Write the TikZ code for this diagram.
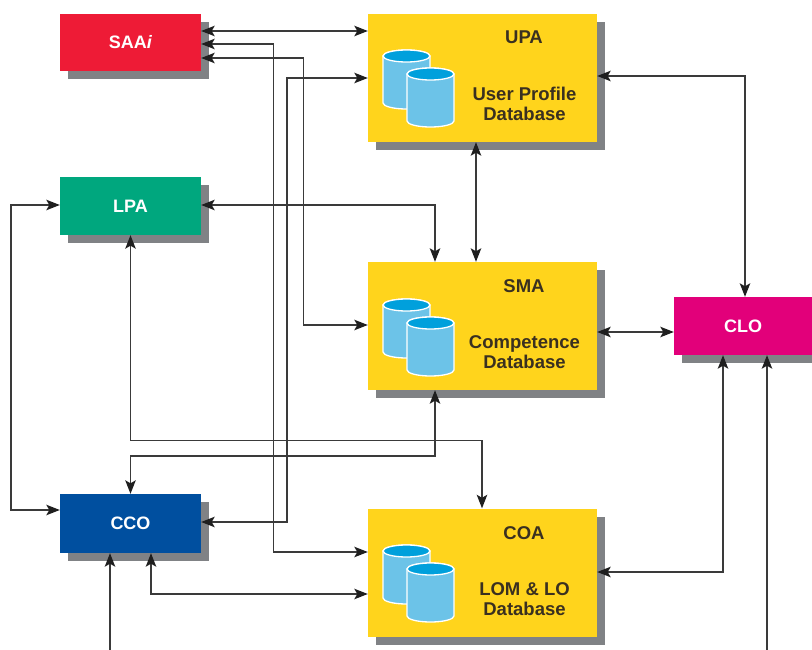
\documentclass[tikz,border=0pt]{standalone}
\usepackage{fontspec}
\setmainfont{Liberation Sans}
\usetikzlibrary{arrows.meta,shadows,calc}
\definecolor{shade}{HTML}{808285}
\definecolor{cred}{HTML}{EE1B36}
\definecolor{cgreen}{HTML}{00A77E}
\definecolor{cblue}{HTML}{004F9F}
\definecolor{cmag}{HTML}{E2007A}
\definecolor{cyel}{HTML}{FFD41C}
\definecolor{cylbody}{HTML}{6CC3E8}
\definecolor{cyltop}{HTML}{00A0DC}
\definecolor{wire}{HTML}{3A3A3A}
\definecolor{ink}{HTML}{3A3020}
\tikzset{
  tiphead/.tip={Stealth[length=13.5pt,width=10.5pt,inset=3pt,color=black!88]},
  box/.style={draw=none,inner sep=0pt,minimum width=141pt,minimum height=58pt,
    general shadow={fill=shade,shadow xshift=8pt,shadow yshift=-8pt}},
  smallbox/.style={box,text=white,font=\bfseries\fontsize{18}{20}\selectfont},
  bigbox/.style={box,fill=cyel,minimum width=229pt,minimum height=128pt},
  boxlabel/.style={inner sep=0pt,text=ink,align=center,font=\bfseries\fontsize{18.5}{19.5}\selectfont},
  link/.style={draw=wire,line width=1.4pt,{tiphead}-{tiphead}},
  inlink/.style={draw=wire,line width=1.4pt,-{tiphead}},
  pics/cylpair/.style={code={
    \foreach \cx/\cy in {0/0,24/18}{
      \path[fill=cylbody,draw=white,line width=1.3pt]
        (\cx-23.5,\cy) -- (\cx-23.5,\cy+47) arc[x radius=23.5,y radius=6,start angle=180,end angle=0] -- (\cx+23.5,\cy)
        arc[x radius=23.5,y radius=6,start angle=0,end angle=-180] -- cycle;
      \path[fill=cyltop,draw=white,line width=1.3pt] (\cx,\cy) ellipse[x radius=23.5,y radius=6];
    }
  }},
}
\begin{document}
\begin{tikzpicture}[x=1pt,y=-1pt]
\useasboundingbox (0,0) rectangle (812,650);
\clip (0,0) rectangle (812,650);
% small boxes
\node[smallbox,fill=cred,minimum height=57pt]   (saa) at (130.5,42.5) {SAA\textit{i}};
\node[smallbox,fill=cgreen] (lpa) at (130.5,206)  {LPA};
\node[smallbox,fill=cblue,minimum height=59pt]  (cco) at (130.5,523.5){CCO};
\node[smallbox,fill=cmag,minimum width=138pt] (clo) at (743,326) {CLO};
% large boxes
\node[bigbox] (upa) at (482.5,78)  {};
\node[bigbox] (sma) at (482.5,326) {};
\node[bigbox] (coa) at (482.5,572.5) {};
% cylinders
\pic at (406.5,56)  {cylpair};
\pic at (406.5,305) {cylpair};
\pic at (406.5,551) {cylpair};
% labels
\node[boxlabel] (upaT) at (524,37)  {UPA};
\node[boxlabel] (upaD) at (524.5,104) {User Profile\\Database};
\node[boxlabel] (smaT) at (524,286) {SMA};
\node[boxlabel] (smaD) at (524.5,352) {Competence\\Database};
\node[boxlabel] (coaT) at (524,533) {COA};
\node[boxlabel] (coaD) at (524.5,599) {LOM \& LO\\Database};
% free ends
\coordinate (ccoFree) at (110,650);
\coordinate (cloFree) at (767,650);
% connectors
\draw[link] ([yshift=11.5pt]saa.east) -- ([yshift=47pt]upa.west);
\draw[link] ([yshift=-1.5pt]saa.east) -- ++(72,0) |- ([yshift=20.5pt]coa.west);
\draw[link] ([yshift=-15.5pt]saa.east) -- ++(102,0) |- ([yshift=1pt]sma.west);
\draw[link] (upa.west) -- ++(-81,0) |- ([yshift=1.5pt]cco.east);
\draw[link] ([yshift=1pt]lpa.east) -| ([xshift=-47.5pt]sma.north);
\draw[link] ([yshift=1pt]lpa.west) -- ++(-49,0) |- ([yshift=13.5pt]cco.west);
\draw[link] (lpa.south) -- ++(0,205) -| ([xshift=-0.5pt]coa.north);
\draw[link] (cco.north) -- ++(0,-38) -| ([xshift=-47.5pt]sma.south);
\draw[link] ([xshift=20.5pt]cco.south) |- ([yshift=-21.5pt]coa.west);
\draw[inlink] (ccoFree) -- ([xshift=-20.5pt]cco.south);
\draw[link] ([xshift=-6.5pt]upa.south) -- ([xshift=-6.5pt]sma.north);
\draw[link] ([yshift=2pt]upa.east) -| ([xshift=2pt]clo.north);
\draw[link] ([yshift=-6pt]sma.east) -- ([yshift=-6pt]clo.west);
\draw[link] ([xshift=-20pt]clo.south) |- ([yshift=0.5pt]coa.east);
\draw[inlink] (cloFree) -- ([xshift=24pt]clo.south);
\end{tikzpicture}
\end{document}
